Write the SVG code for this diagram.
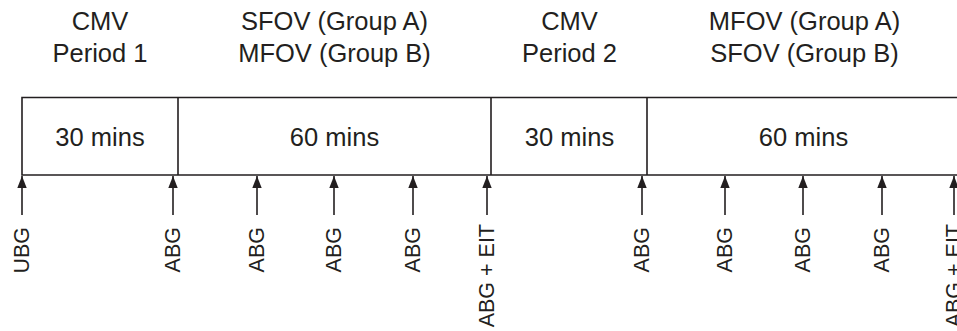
<svg xmlns="http://www.w3.org/2000/svg" width="957" height="331" viewBox="0 0 957 331">
<style>
text{font-family:"Liberation Sans",Arial,sans-serif;font-size:25.5px;fill:#231f20}
.c{text-anchor:middle}
.v{text-anchor:end;font-size:21.5px}
.ln{stroke:#231f20;stroke-width:1.6;fill:none}
.ar{stroke:#231f20;stroke-width:1.6;fill:none;marker-end:url(#ah)}
</style>
<defs>
<marker id="ah" markerUnits="userSpaceOnUse" markerWidth="12" markerHeight="16" refX="14" refY="5.5" orient="auto" viewBox="0 0 14 11">
<path d="M0,0 L14,5.5 L0,11 Z" fill="#231f20"/>
</marker>
</defs>
<g id="headers">
<text class="c" x="100" y="30">CMV</text>
<text class="c" x="100" y="62">Period 1</text>
<text class="c" x="334.5" y="30">SFOV (Group A)</text>
<text class="c" x="334.5" y="62">MFOV (Group B)</text>
<text class="c" x="569.5" y="30">CMV</text>
<text class="c" x="569.5" y="62">Period 2</text>
<text class="c" x="804.5" y="30">MFOV (Group A)</text>
<text class="c" x="804.5" y="62">SFOV (Group B)</text>
</g>
<g id="timeline">
<path class="ln" d="M960,97.5 H22 V175 H960"/>
<path class="ln" d="M178,97.5 V175 M491,97.5 V175 M647,97.5 V175"/>
<text class="c" x="100" y="146">30 mins</text>
<text class="c" x="334.5" y="146">60 mins</text>
<text class="c" x="569.5" y="146">30 mins</text>
<text class="c" x="803.5" y="146">60 mins</text>
</g>
<g id="connectors">
<line class="ar" x1="22" y1="215" x2="22" y2="176"/>
<line class="ar" x1="173" y1="215" x2="173" y2="176"/>
<line class="ar" x1="257" y1="215" x2="257" y2="176"/>
<line class="ar" x1="334" y1="215" x2="334" y2="176"/>
<line class="ar" x1="413" y1="215" x2="413" y2="176"/>
<line class="ar" x1="487" y1="215" x2="487" y2="176"/>
<line class="ar" x1="642" y1="215" x2="642" y2="176"/>
<line class="ar" x1="725" y1="215" x2="725" y2="176"/>
<line class="ar" x1="803" y1="215" x2="803" y2="176"/>
<line class="ar" x1="882" y1="215" x2="882" y2="176"/>
<line class="ar" x1="954" y1="215" x2="954" y2="176"/>
</g>
<g id="labels">
<text class="v" transform="translate(28.5,227) rotate(-90)">UBG</text>
<text class="v" transform="translate(179.5,227) rotate(-90)">ABG</text>
<text class="v" transform="translate(263.5,227) rotate(-90)">ABG</text>
<text class="v" transform="translate(340.5,227) rotate(-90)">ABG</text>
<text class="v" transform="translate(419.5,227) rotate(-90)">ABG</text>
<text class="v" transform="translate(493.5,224) rotate(-90)">ABG + EIT</text>
<text class="v" transform="translate(648.5,227) rotate(-90)">ABG</text>
<text class="v" transform="translate(731.5,227) rotate(-90)">ABG</text>
<text class="v" transform="translate(809.5,227) rotate(-90)">ABG</text>
<text class="v" transform="translate(888.5,227) rotate(-90)">ABG</text>
<text class="v" transform="translate(960.5,224) rotate(-90)">ABG + EIT</text>
</g>
</svg>
